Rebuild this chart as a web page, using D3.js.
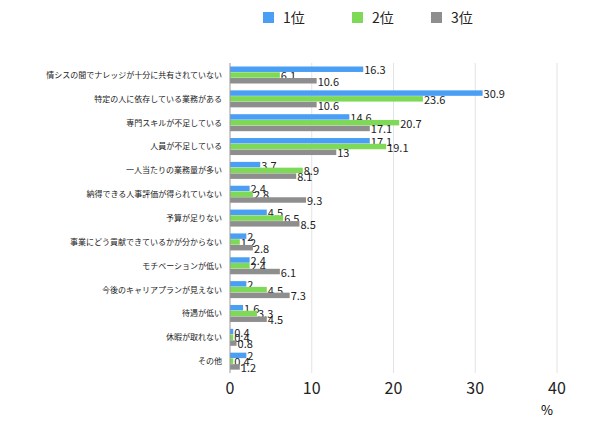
<!DOCTYPE html><html><head><meta charset="utf-8"><script src="https://cdn.jsdelivr.net/npm/d3@7"></script>
<style>body{margin:0;background:#fff}text{font-family:"Noto Sans CJK JP",sans-serif}</style></head><body><svg id="c" width="590" height="428"></svg>
<script>
const categories=["情シスの間でナレッジが十分に共有されていない","特定の人に依存している業務がある","専門スキルが不足している","人員が不足している","一人当たりの業務量が多い","納得できる人事評価が得られていない","予算が足りない","事業にどう貢献できているかが分からない","モチベーションが低い","今後のキャリアプランが見えない","待遇が低い","休暇が取れない","その他"];
const s1=[16.3,30.9,14.6,17.1,3.7,2.4,4.5,2,2.4,2,1.6,0.4,2];
const s2=[6.1,23.6,20.7,19.1,8.9,2.8,6.5,1.2,2.4,4.5,3.3,0.4,0.4];
const s3=[10.6,10.6,17.1,13,8.1,9.3,8.5,2.8,6.1,7.3,4.5,0.8,1.2];
const seriesNames=["1位","2位","3位"];
const colors=["#4a9ff5","#7ed957","#8e8e8e"];
const ticks=[0,10,20,30,40];
const svg=d3.select("#c");
const x=d3.scaleLinear().domain([0,40]).range([230,557]);
const y=d3.scaleBand().domain(categories).range([63,373]);
const sub=d3.scaleBand().domain([0,1,2]).range([3.5,20.5]).paddingInner(0.05);
svg.selectAll(".g").data(ticks.slice(1)).enter().append("line").attr("x1",d=>x(d)).attr("x2",d=>x(d)).attr("y1",63).attr("y2",373).attr("stroke","#e3e3e3");
const all=[s1,s2,s3];
all.forEach((s,i)=>{
 const g=svg.append("g");
 g.selectAll("rect").data(s).enter().append("rect").attr("x",x(0)).attr("y",(d,j)=>y(categories[j])+sub(i)).attr("width",d=>x(d)-x(0)).attr("height",sub.bandwidth()).attr("fill",colors[i]);
 g.selectAll("text").data(s).enter().append("text").attr("x",d=>x(d)+1).attr("y",(d,j)=>y(categories[j])+sub(i)+sub.bandwidth()/2+5).attr("font-size",11).attr("fill","#222").text(d=>d);
});
svg.append("line").attr("x1",x(0)).attr("x2",x(0)).attr("y1",63).attr("y2",373).attr("stroke","#999");
svg.selectAll(".cl").data(categories).enter().append("text").attr("x",222).attr("y",d=>y(d)+y.bandwidth()/2+3).attr("text-anchor","end").attr("font-size",8).attr("fill","#222").text(d=>d);
svg.selectAll(".tl").data(ticks).enter().append("text").attr("x",d=>x(d)).attr("y",394).attr("text-anchor","middle").attr("font-size",16).attr("fill","#222").text(d=>d);
svg.append("text").attr("x",547).attr("y",415).attr("text-anchor","middle").attr("font-size",13).text("%");
const lx=[263,352,431];
seriesNames.forEach((n,i)=>{svg.append("rect").attr("x",lx[i]).attr("y",12).attr("width",11).attr("height",11).attr("fill",colors[i]);
svg.append("text").attr("x",lx[i]+20).attr("y",23).attr("font-size",14).attr("fill","#222").text(n);});
</script></body></html>
